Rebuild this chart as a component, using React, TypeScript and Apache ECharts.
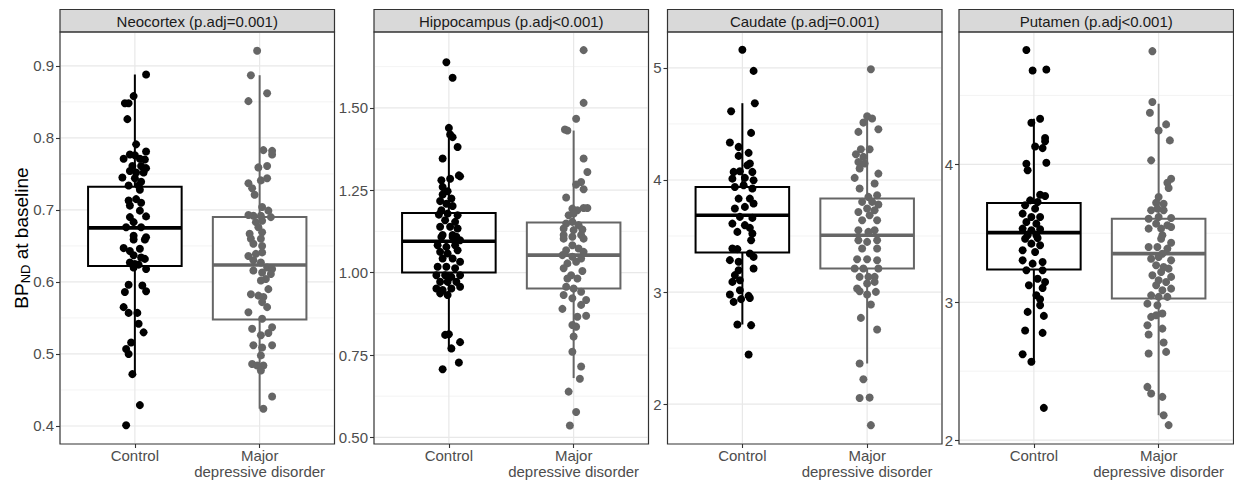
import React, { useEffect, useRef } from "react";
import * as echarts from "echarts";

// ---------------- data ----------------
const groups = ["Control", "Major\ndepressive disorder"];
const panelTitles = [
  "Neocortex (p.adj=0.001)",
  "Hippocampus (p.adj<0.001)",
  "Caudate (p.adj=0.001)",
  "Putamen (p.adj<0.001)",
];
const yTitleMain = "BP";
const yTitleSub = "ND";
const yTitleRest = " at baseline";

// axis ranges and ticks
const yMin = [0.375, 0.48, 1.645, 1.972];
const yMax = [0.947, 1.73, 5.32, 4.96];
const majorTicks = [
  [0.4, 0.5, 0.6, 0.7, 0.8, 0.9],
  [0.5, 0.75, 1.0, 1.25, 1.5],
  [2, 3, 4, 5],
  [2, 3, 4],
];
const tickLabels = [
  ["0.4", "0.5", "0.6", "0.7", "0.8", "0.9"],
  ["0.50", "0.75", "1.00", "1.25", "1.50"],
  ["2", "3", "4", "5"],
  ["2", "3", "4"],
];
const minorTicks = [
  [0.45, 0.55, 0.65, 0.75, 0.85],
  [0.625, 0.875, 1.125, 1.375, 1.625],
  [2.5, 3.5, 4.5],
  [2.5, 3.5, 4.5],
];

// box stats: [lower whisker, Q1, median, Q3, upper whisker]
const neoBox = [
  [0.472, 0.622, 0.675, 0.732, 0.888],
  [0.424, 0.548, 0.6235, 0.69, 0.887],
];
const hipBox = [
  [0.77, 1.0, 1.095, 1.181, 1.435],
  [0.68, 0.952, 1.053, 1.152, 1.431],
];
const caudBox = [
  [2.711, 3.353, 3.686, 3.938, 4.685],
  [2.363, 3.21, 3.507, 3.834, 4.569],
];
const putBox = [
  [2.568, 3.237, 3.505, 3.72, 4.331],
  [2.181, 3.027, 3.353, 3.606, 4.44],
];

// points: [jitter (category units), value]
const neoControl = [
  [0.09, 0.888], [-0.01, 0.858], [-0.08, 0.848], [-0.05, 0.848], [-0.06, 0.826], [0.01, 0.791], [0.09, 0.781],
  [-0.04, 0.777], [0.0, 0.776], [-0.09, 0.771], [0.04, 0.771], [0.08, 0.77], [-0.02, 0.761], [0.05, 0.761],
  [0.09, 0.758], [-0.04, 0.754], [0.01, 0.752], [0.07, 0.752], [-0.1, 0.745], [0.0, 0.744], [0.05, 0.739],
  [-0.05, 0.734], [0.03, 0.734], [0.04, 0.728], [-0.05, 0.713], [0.01, 0.715], [0.05, 0.71], [-0.04, 0.706],
  [0.04, 0.699], [0.09, 0.691], [-0.04, 0.69], [-0.01, 0.683], [-0.07, 0.676], [0.05, 0.676], [-0.01, 0.664],
  [0.09, 0.662], [-0.01, 0.659], [0.08, 0.659], [-0.09, 0.647], [-0.04, 0.643], [0.04, 0.646], [-0.01, 0.637],
  [0.05, 0.634], [0.08, 0.632], [-0.04, 0.627], [0.0, 0.625], [0.03, 0.624], [-0.01, 0.62], [0.09, 0.618],
  [-0.05, 0.596], [0.06, 0.595], [-0.08, 0.586], [0.09, 0.587], [-0.09, 0.565], [-0.05, 0.557], [0.02, 0.557],
  [0.03, 0.542], [0.07, 0.53], [-0.03, 0.516], [-0.07, 0.507], [-0.05, 0.5], [-0.02, 0.472], [0.04, 0.429],
  [-0.07, 0.401],
];
const neoMDD = [
  [-0.02, 0.921], [-0.07, 0.887], [0.06, 0.862], [-0.09, 0.851], [0.03, 0.783], [0.1, 0.782], [0.1, 0.777],
  [0.06, 0.761], [-0.01, 0.759], [0.06, 0.744], [0.01, 0.741], [-0.09, 0.737], [-0.06, 0.73], [-0.04, 0.721],
  [0.02, 0.704], [-0.09, 0.693], [-0.05, 0.692], [0.01, 0.692], [0.07, 0.699], [0.09, 0.69], [-0.03, 0.683],
  [0.02, 0.685], [-0.01, 0.676], [-0.08, 0.667], [0.02, 0.669], [-0.07, 0.66], [0.01, 0.66], [-0.05, 0.653],
  [0.02, 0.65], [-0.09, 0.636], [-0.03, 0.639], [0.02, 0.641], [-0.05, 0.63], [0.01, 0.627], [0.06, 0.62],
  [0.1, 0.618], [-0.05, 0.616], [0.02, 0.613], [0.09, 0.611], [0.05, 0.604], [0.01, 0.602], [0.07, 0.59],
  [-0.07, 0.583], [-0.01, 0.581], [0.03, 0.579], [0.02, 0.572], [0.06, 0.565], [-0.09, 0.558], [0.02, 0.549],
  [-0.06, 0.535], [0.1, 0.537], [0.07, 0.529], [0.01, 0.526], [-0.05, 0.512], [0.02, 0.509], [0.1, 0.512],
  [0.01, 0.498], [-0.06, 0.486], [-0.02, 0.484], [0.03, 0.484], [0.01, 0.477], [0.1, 0.441], [0.03, 0.424],
];
const hipControl = [
  [-0.02, 1.638], [0.03, 1.591], [0.0, 1.439], [0.01, 1.419], [0.03, 1.411], [0.07, 1.381], [-0.05, 1.346],
  [0.08, 1.295], [0.09, 1.292], [-0.06, 1.28], [0.01, 1.285], [-0.05, 1.26], [-0.01, 1.247], [-0.05, 1.237],
  [0.02, 1.225], [-0.07, 1.217], [-0.02, 1.209], [0.03, 1.202], [-0.06, 1.189], [-0.08, 1.176], [-0.01, 1.179],
  [0.07, 1.174], [-0.03, 1.159], [0.05, 1.154], [-0.07, 1.139], [0.01, 1.139], [0.07, 1.134], [-0.05, 1.114],
  [0.03, 1.114], [0.06, 1.109], [-0.06, 1.108], [0.03, 1.108], [0.09, 1.098], [-0.09, 1.083], [-0.02, 1.078],
  [0.05, 1.083], [-0.07, 1.063], [-0.01, 1.058], [0.07, 1.068], [-0.05, 1.043], [0.03, 1.043], [0.09, 1.033],
  [-0.09, 1.018], [-0.02, 1.018], [0.05, 1.013], [-0.1, 0.992], [-0.03, 0.992], [0.02, 0.987], [0.09, 0.992],
  [-0.07, 0.972], [-0.01, 0.972], [0.06, 0.972], [-0.1, 0.952], [-0.05, 0.947], [0.02, 0.952], [0.09, 0.957],
  [-0.07, 0.937], [-0.01, 0.932], [-0.03, 0.811], [0.0, 0.813], [0.09, 0.789], [0.02, 0.77], [0.08, 0.727],
  [-0.05, 0.707],
];
const hipMDD = [
  [0.08, 1.675], [0.08, 1.515], [0.02, 1.467], [-0.07, 1.434], [-0.05, 1.431], [0.08, 1.346], [0.11, 1.305],
  [0.06, 1.275], [0.02, 1.267], [0.08, 1.253], [-0.06, 1.228], [-0.01, 1.194], [0.08, 1.196], [0.11, 1.196],
  [0.03, 1.189], [-0.04, 1.174], [0.0, 1.179], [-0.06, 1.149], [-0.01, 1.154], [0.04, 1.144], [-0.08, 1.134],
  [0.0, 1.129], [0.07, 1.131], [-0.08, 1.114], [-0.01, 1.109], [0.06, 1.114], [-0.08, 1.103], [0.08, 1.103],
  [-0.01, 1.083], [-0.06, 1.068], [0.04, 1.073], [0.08, 1.063], [-0.09, 1.053], [-0.01, 1.048], [0.06, 1.043],
  [-0.05, 1.028], [0.02, 1.033], [-0.08, 1.013], [0.07, 1.005], [-0.02, 0.992], [-0.05, 0.982], [0.03, 0.982],
  [-0.06, 0.957], [0.0, 0.952], [0.06, 0.942], [0.1, 0.917], [-0.08, 0.932], [-0.01, 0.922], [0.06, 0.902],
  [-0.09, 0.89], [0.03, 0.866], [0.1, 0.869], [-0.01, 0.841], [0.02, 0.836], [0.0, 0.806], [-0.01, 0.76],
  [0.06, 0.715], [0.05, 0.678], [-0.04, 0.639], [0.02, 0.577], [-0.03, 0.536],
];
const caudControl = [
  [0.0, 5.161], [0.09, 4.973], [0.1, 4.685], [-0.09, 4.613], [0.07, 4.42], [-0.1, 4.334], [-0.03, 4.295],
  [0.05, 4.242], [-0.03, 4.215], [0.06, 4.147], [0.04, 4.132], [-0.07, 4.072], [-0.02, 4.078], [0.08, 4.072],
  [-0.08, 4.012], [0.02, 4.019], [0.09, 3.998], [-0.06, 3.938], [0.01, 3.953], [0.08, 3.924], [-0.03, 3.834],
  [0.06, 3.834], [0.09, 3.79], [-0.06, 3.745], [0.02, 3.76], [-0.02, 3.671], [0.08, 3.662], [-0.08, 3.611],
  [0.02, 3.597], [0.06, 3.573], [-0.04, 3.537], [0.08, 3.522], [0.07, 3.463], [-0.08, 3.389], [-0.04, 3.383],
  [0.06, 3.344], [0.09, 3.314], [-0.1, 3.285], [-0.03, 3.27], [0.09, 3.21], [-0.03, 3.195], [-0.06, 3.151],
  [-0.08, 3.091], [-0.02, 3.106], [-0.1, 2.978], [-0.02, 3.017], [0.05, 2.966], [0.06, 2.948], [-0.07, 2.913],
  [-0.01, 2.937], [-0.04, 2.711], [0.07, 2.705], [0.05, 2.443],
];
const caudMDD = [
  [0.03, 4.988], [0.0, 4.569], [0.04, 4.548], [-0.03, 4.512], [0.09, 4.453], [-0.07, 4.429], [-0.05, 4.274],
  [0.02, 4.274], [-0.09, 4.23], [-0.03, 4.206], [-0.07, 4.161], [-0.02, 4.147], [-0.06, 4.102], [0.09, 4.057],
  [-0.1, 4.019], [0.06, 3.968], [-0.06, 3.924], [0.01, 3.849], [0.08, 3.864], [-0.04, 3.805], [0.04, 3.805],
  [0.09, 3.781], [0.0, 3.745], [0.06, 3.73], [-0.07, 3.715], [0.02, 3.686], [-0.04, 3.641], [0.08, 3.641],
  [-0.07, 3.552], [0.01, 3.537], [0.06, 3.552], [-0.07, 3.463], [0.0, 3.448], [0.08, 3.463], [-0.04, 3.389],
  [0.08, 3.389], [-0.08, 3.293], [0.0, 3.293], [0.08, 3.284], [-0.1, 3.21], [-0.03, 3.21], [0.09, 3.21],
  [-0.06, 3.136], [0.01, 3.136], [0.06, 3.136], [0.06, 3.091], [0.0, 3.076], [-0.08, 3.032], [-0.06, 3.008],
  [0.07, 3.002], [0.0, 2.978], [0.03, 2.889], [-0.05, 2.77], [0.08, 2.666], [-0.06, 2.363], [-0.03, 2.223],
  [-0.06, 2.056], [0.02, 2.059], [0.03, 1.813],
];
const putControl = [
  [-0.06, 4.829], [-0.01, 4.681], [0.1, 4.688], [0.05, 4.331], [-0.02, 4.302], [0.09, 4.191], [0.09, 4.167],
  [0.01, 4.13], [0.07, 4.118], [-0.06, 4.005], [0.1, 4.012], [-0.05, 3.957], [0.05, 3.78], [0.09, 3.771],
  [-0.03, 3.739], [0.03, 3.727], [-0.07, 3.703], [0.01, 3.679], [-0.09, 3.643], [-0.02, 3.618], [0.05, 3.618],
  [-0.06, 3.582], [0.02, 3.57], [-0.09, 3.534], [-0.02, 3.522], [0.05, 3.529], [-0.05, 3.486], [0.02, 3.486],
  [-0.07, 3.461], [0.03, 3.466], [-0.02, 3.425], [0.05, 3.413], [-0.09, 3.377], [0.01, 3.365], [-0.09, 3.304],
  [-0.01, 3.28], [0.07, 3.292], [-0.06, 3.232], [0.07, 3.232], [0.03, 3.171], [0.09, 3.147], [-0.04, 3.123],
  [0.07, 3.104], [0.02, 3.051], [0.05, 3.022], [0.05, 2.978], [-0.05, 2.93], [0.08, 2.901], [-0.07, 2.795],
  [0.07, 2.778], [-0.09, 2.623], [-0.02, 2.568], [0.08, 2.234],
];
const putMDD = [
  [-0.05, 4.821], [-0.05, 4.452], [-0.07, 4.374], [0.06, 4.29], [0.0, 4.246], [0.09, 4.174], [-0.06, 4.029],
  [0.1, 3.896], [0.07, 3.867], [0.08, 3.829], [0.0, 3.763], [-0.02, 3.722], [0.04, 3.715], [-0.06, 3.667],
  [-0.01, 3.679], [0.04, 3.667], [-0.08, 3.606], [0.0, 3.618], [0.1, 3.611], [-0.02, 3.57], [0.07, 3.558],
  [-0.08, 3.534], [0.02, 3.534], [0.1, 3.546], [0.03, 3.486], [0.02, 3.461], [0.1, 3.432], [-0.08, 3.401],
  [-0.01, 3.401], [0.07, 3.389], [0.03, 3.352], [-0.06, 3.316], [0.0, 3.328], [0.1, 3.304], [-0.02, 3.268],
  [0.04, 3.256], [0.08, 3.244], [0.02, 3.22], [-0.05, 3.196], [0.1, 3.184], [0.0, 3.159], [0.06, 3.147],
  [-0.02, 3.123], [0.03, 3.087], [0.1, 3.099], [-0.06, 3.05], [0.0, 3.039], [0.07, 3.039], [-0.09, 2.99],
  [-0.01, 2.978], [0.03, 2.918], [-0.06, 2.894], [-0.02, 2.906], [-0.09, 2.833], [0.03, 2.809], [-0.08, 2.766],
  [0.04, 2.708], [-0.08, 2.628], [0.06, 2.64], [-0.09, 2.386], [-0.06, 2.338], [0.03, 2.314], [0.04, 2.181],
  [0.08, 2.109],
];

const boxes = [neoBox, hipBox, caudBox, putBox];
const points = [
  [neoControl, neoMDD],
  [hipControl, hipMDD],
  [caudControl, caudMDD],
  [putControl, putMDD],
];

// ---------------- layout / style ----------------
const FONT = "'Liberation Sans', Arial, Helvetica, sans-serif";
const groupColors = ["#000000", "#666666"];
const panelLeft = [60, 374, 667.5, 959];
const panelWidth = 274.5;
const panelTop = 32;
const panelHeight = 412;
const stripTop = 9.5;
const BOX_HALF = 0.375;

function buildOption() {
  const grid: any[] = [];
  const xAxis: any[] = [];
  const yAxis: any[] = [];
  const series: any[] = [];
  const graphics: any[] = [];

  for (let i = 0; i < 4; i++) {
    grid.push({
      left: panelLeft[i],
      top: panelTop,
      width: panelWidth,
      height: panelHeight,
      containLabel: false,
      show: false,
    });
    xAxis.push({
      type: "value",
      gridIndex: i,
      min: 0.4,
      max: 2.6,
      axisLine: { show: false },
      splitLine: { show: false },
      axisTick: { show: true, customValues: [1, 2], length: 4, lineStyle: { color: "#333333", width: 1.1 } },
      axisLabel: {
        customValues: [1, 2],
        formatter: (v: number) => groups[Math.round(v) - 1] || "",
        color: "#4d4d4d",
        fontSize: 15,
        lineHeight: 16,
        fontFamily: FONT,
        margin: 3,
        align: "center",
      },
    });
    const ticks = majorTicks[i];
    const labels = tickLabels[i];
    yAxis.push({
      type: "value",
      gridIndex: i,
      min: yMin[i],
      max: yMax[i],
      axisLine: { show: false },
      splitLine: { show: false },
      axisTick: { show: true, customValues: ticks, length: 4, lineStyle: { color: "#333333", width: 1.1 } },
      axisLabel: {
        customValues: ticks,
        formatter: (v: number) => {
          let best = 0;
          for (let k = 0; k < ticks.length; k++) {
            if (Math.abs(ticks[k] - v) < Math.abs(ticks[best] - v)) best = k;
          }
          return labels[best];
        },
        color: "#4d4d4d",
        fontSize: 15,
        fontFamily: FONT,
        margin: 6,
      },
    });

    // minor horizontal grid
    series.push({
      type: "custom",
      xAxisIndex: i,
      yAxisIndex: i,
      silent: true,
      z: 0,
      encode: { x: 0, y: 1 },
      data: minorTicks[i].map((v) => [1.5, v]),
      renderItem: (params: any, api: any) => {
        const p = api.coord([1.5, api.value(1)]);
        const cs = params.coordSys;
        return {
          type: "line",
          shape: { x1: cs.x + 1, y1: p[1], x2: cs.x + cs.width - 1, y2: p[1] },
          style: { stroke: "#f0f0f0", lineWidth: 0.8 },
        };
      },
    });
    // major horizontal grid
    series.push({
      type: "custom",
      xAxisIndex: i,
      yAxisIndex: i,
      silent: true,
      z: 0,
      encode: { x: 0, y: 1 },
      data: majorTicks[i].map((v) => [1.5, v]),
      renderItem: (params: any, api: any) => {
        const p = api.coord([1.5, api.value(1)]);
        const cs = params.coordSys;
        return {
          type: "line",
          shape: { x1: cs.x + 1, y1: p[1], x2: cs.x + cs.width - 1, y2: p[1] },
          style: { stroke: "#e8e8e8", lineWidth: 1.2 },
        };
      },
    });
    // vertical grid at categories
    series.push({
      type: "custom",
      xAxisIndex: i,
      yAxisIndex: i,
      silent: true,
      z: 0,
      encode: { x: 0, y: 1 },
      data: [1, 2].map((x) => [x, yMin[i]]),
      renderItem: (params: any, api: any) => {
        const p = api.coord([api.value(0), api.value(1)]);
        const cs = params.coordSys;
        return {
          type: "line",
          shape: { x1: p[0], y1: cs.y + 1, x2: p[0], y2: cs.y + cs.height - 1 },
          style: { stroke: "#e8e8e8", lineWidth: 1.2 },
        };
      },
    });
    // boxes
    series.push({
      type: "custom",
      xAxisIndex: i,
      yAxisIndex: i,
      silent: true,
      z: 1,
      encode: { x: 0, y: [1, 2, 3, 4, 5] },
      data: boxes[i].map((b, g) => [g + 1, ...b]),
      renderItem: (params: any, api: any) => {
        const x = api.value(0);
        const lo = api.value(1);
        const q1 = api.value(2);
        const md = api.value(3);
        const q3 = api.value(4);
        const hi = api.value(5);
        const pHi = api.coord([x, hi]);
        const pLo = api.coord([x, lo]);
        const tl = api.coord([x - BOX_HALF, q3]);
        const br = api.coord([x + BOX_HALF, q1]);
        const pm = api.coord([x, md]);
        const color = groupColors[params.dataIndex];
        return {
          type: "group",
          children: [
            { type: "line", shape: { x1: pHi[0], y1: pHi[1], x2: pHi[0], y2: tl[1] }, style: { stroke: color, lineWidth: 2 } },
            { type: "line", shape: { x1: pLo[0], y1: pLo[1], x2: pLo[0], y2: br[1] }, style: { stroke: color, lineWidth: 2 } },
            {
              type: "rect",
              shape: { x: tl[0], y: tl[1], width: br[0] - tl[0], height: br[1] - tl[1] },
              style: { fill: "#ffffff", stroke: color, lineWidth: 2 },
            },
            { type: "line", shape: { x1: tl[0], y1: pm[1], x2: br[0], y2: pm[1] }, style: { stroke: color, lineWidth: 3.6 } },
          ],
        };
      },
    });
    // jittered points
    for (let g = 0; g < 2; g++) {
      series.push({
        type: "scatter",
        xAxisIndex: i,
        yAxisIndex: i,
        z: 3,
        silent: true,
        symbol: "circle",
        symbolSize: 8,
        itemStyle: { color: groupColors[g], opacity: 1 },
        data: points[i][g].map((p) => [g + 1 + p[0], p[1]]),
      });
    }

    // strip
    graphics.push({
      type: "rect",
      silent: true,
      z: 10,
      shape: { x: panelLeft[i], y: stripTop, width: panelWidth, height: panelTop - stripTop },
      style: { fill: "#d9d9d9", stroke: "#333333", lineWidth: 1.2 },
    });
    graphics.push({
      type: "text",
      silent: true,
      z: 11,
      x: panelLeft[i] + panelWidth / 2,
      y: (stripTop + panelTop) / 2 + 0.5,
      style: {
        text: panelTitles[i],
        fill: "#1a1a1a",
        fontSize: 15,
        fontFamily: FONT,
        align: "center",
        verticalAlign: "middle",
      },
    });
    // panel border
    graphics.push({
      type: "rect",
      silent: true,
      z: 10,
      shape: { x: panelLeft[i], y: panelTop, width: panelWidth, height: panelHeight },
      style: { fill: "transparent", stroke: "#333333", lineWidth: 1.2 },
    });
  }

  // y axis title
  graphics.push({
    type: "text",
    silent: true,
    z: 11,
    x: 21,
    y: 238,
    rotation: Math.PI / 2,
    style: {
      text: `{a|${yTitleMain}}{b|${yTitleSub}}{a|${yTitleRest}}`,
      align: "center",
      verticalAlign: "middle",
      fill: "#000000",
      fontFamily: FONT,
      rich: {
        a: { fontSize: 19, fontFamily: FONT, fill: "#000000", lineHeight: 22, verticalAlign: "middle" },
        b: { fontSize: 13, fontFamily: FONT, fill: "#000000", lineHeight: 13, verticalAlign: "bottom" },
      },
    },
  });

  return {
    animation: false,
    backgroundColor: "#ffffff",
    textStyle: { fontFamily: FONT },
    grid,
    xAxis,
    yAxis,
    series,
    graphic: { elements: graphics },
  };
}

export default function App() {
  const ref = useRef<HTMLDivElement>(null);
  useEffect(() => {
    if (!ref.current) return;
    const chart = echarts.init(ref.current, undefined, { renderer: "svg" });
    chart.setOption(buildOption() as any);
    return () => chart.dispose();
  }, []);
  return (
    <div
      ref={ref}
      style={{ position: "fixed", left: 0, top: 0, width: 1234, height: 483, background: "#fff" }}
    />
  );
}
